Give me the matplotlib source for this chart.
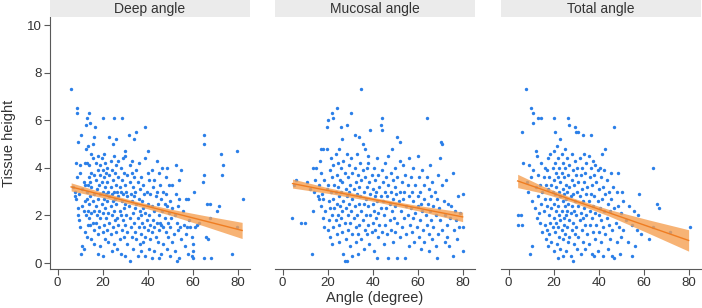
import matplotlib
matplotlib.use("Agg")

import matplotlib.pyplot as plt
import numpy as np

plt.rcParams.update({
    "font.family": ["Liberation Sans", "DejaVu Sans"],
    "font.size": 9,
})

PANELS = ["Deep angle", "Mucosal angle", "Total angle"]
X_TICKS = [0, 20, 40, 60, 80]
Y_TICKS = [0, 2, 4, 6, 8, 10]

# Deep angle points (x, y)
deep_pts = [
    (5.8,7.3),(7,3.2),(7.5,3.0),(7.5,2.8),(8,4.2),(8,2.7),(8.5,6.5),(8.7,6.3),(8.5,3.6),(9,5.1),
    (9,2.3),(9,2.0),(9.5,1.8),(9.5,2.9),(10,3.8),(10,4.1),(10,1.5),(10.5,0.4),(10.5,5.4),(11,0.7),
    (11,2.4),(11,3.1),(11.5,0.6),(11.5,2.2),(11.5,3.4),
    (12,4.2),(12,3.3),(12,2.6),(12,1.3),(12.5,4.8),(12.5,5.8),(12.5,2.0),(13,6.1),(13,4.2),(13,3.0),
    (13,2.7),(13,1.1),(13.5,4.9),(13.5,3.3),(13.5,2.2),(13.5,1.6),(14,6.3),(14,4.1),(14,3.6),(14,2.5),
    (14,1.9),(14.5,5.9),(14.5,3.4),(14.5,2.8),(14.5,1.6),(15,4.6),(15,3.8),(15,3.2),(15,2.1),(15,1.0),
    (15.5,5.0),(15.5,4.4),(15.5,2.6),(15.5,1.7),(16,5.3),(16,3.7),(16,2.9),(16,2.2),(16,1.4),(16,0.8),
    (16.5,5.7),(17,4.2),(17,3.5),(17,2.4),(17,1.7),(17.5,3.1),(17.5,2.0),(18,4.5),(18,3.9),(18,2.7),
    (18,1.2),(18,0.4),(18.5,3.3),(18.5,2.2),(18.5,1.5),(19,4.1),(19,3.7),(19,2.9),(19,1.9),(19,0.7),
    (19.5,4.4),(19.5,3.4),(19.5,2.5),(20,6.1),(20,3.9),(20,3.0),(20,2.1),(20,1.3),(20,0.3),(20.5,4.6),
    (20.5,3.6),(20.5,2.7),(20.5,1.6),(21,4.2),(21,3.2),(21,2.3),(21,1.0),(21.5,3.8),(21.5,2.9),(21.5,1.9),
    (22,4.0),(22,3.4),(22,2.6),(22,1.4),(22.5,3.0),(22.5,2.1),(22.5,0.9),(23,5.3),(23,3.7),(23,2.8),
    (23,1.7),(23.5,4.3),(23.5,3.2),(23.5,2.4),(23.5,1.2),(24,3.9),(24,2.9),(24,2.0),(24,0.5),(24.5,5.0),
    (24.5,3.5),(24.5,2.6),(24.5,1.5),(25,6.1),(25,4.5),(25,3.0),(25,2.2),(25,0.8),(25.5,3.8),(25.5,2.7),
    (25.5,1.8),(26,5.2),(26,4.1),(26,3.3),(26,2.5),(26,1.3),(26.5,3.0),(26.5,1.9),(26.5,0.6),
    (27,4.3),(27,3.6),(27,2.8),(27,1.6),(27.5,3.2),(27.5,2.2),(27.5,1.0),(28,4.0),(28,3.0),(28,2.0),
    (28,0.4),(28.5,6.1),(28.5,3.5),(28.5,2.6),(28.5,1.4),(29,4.4),(29,2.9),(29,1.8),(29.5,3.8),(29.5,2.3),
    (29.5,1.1),(30,4.7),(30,4.5),(30,3.3),(30,2.5),(30,1.6),(30,0.3),(30.5,3.0),(30.5,2.0),(31,3.7),
    (31,2.8),(31,1.3),(31,0.8),(31.5,5.4),(31.5,2.4),
    (32,4.1),(32,3.4),(32,1.9),(32,0.1),(32.5,2.9),(32.5,1.5),(33,4.3),(33,3.8),(33,2.6),(33,1.1),
    (33.5,3.2),(33.5,2.1),(33.5,0.6),(34,5.2),(34,3.6),(34,2.8),(34,1.7),(34.5,3.0),(34.5,2.3),(34.5,1.3),
    (35,5.5),(35,3.9),(35,2.5),(35,1.0),(35.5,3.4),(35.5,1.9),(35.5,0.3),(36,4.2),(36,2.7),(36,1.5),
    (36.5,3.1),(36.5,2.2),(36.5,0.8),
    (37,3.6),(37,2.0),(37,1.2),(37,0.5),(37.5,2.6),(37.5,1.7),(38,3.3),(38,2.3),(38,0.9),(38.5,2.9),
    (38.5,1.5),(39,5.7),(39,4.4),(39,2.1),(39,1.1),(39,0.3),(39.5,3.0),(39.5,1.8),(40,4.7),(40,3.8),
    (40,2.5),(40,1.4),(40.5,3.5),(40.5,2.0),(40.5,0.6),(41,2.9),(41,1.6),(41,1.0),
    (42,3.9),(42,2.4),(42,1.3),(42,0.2),(42.5,3.2),(42.5,1.8),(43,3.5),(43,2.2),(43,1.5),(43,0.5),
    (43.5,2.8),(43.5,1.1),(44,4.3),(44,3.0),(44,1.7),(44.5,2.5),(44.5,0.9),(45,3.8),(45,2.0),(45,1.4),
    (45,0.2),(45.5,3.3),(45.5,1.7),(46,2.7),(46,1.6),(46,0.4),(46.5,4.0),(46.5,2.2),
    (47,3.0),(47,1.5),(47,0.8),(47.5,2.5),(47.5,1.9),(48,3.6),(48,2.9),(48,1.3),(48.5,4.0),(48.5,2.4),
    (48.5,0.6),(49,1.7),(49,1.1),(49.5,3.3),(49.5,2.1),(50,2.6),(50,1.5),(50,0.3),(50.5,1.9),(51,3.3),
    (51,2.3),(51,0.9),(51.5,1.2),(52,2.0),(52,0.5),
    (52.5,4.1),(52.5,2.9),(53,1.7),(53,0.1),(53.5,2.4),(53.5,1.4),(54,3.5),(54,2.7),(54,0.2),(54.5,1.5),
    (55,3.9),(55,1.0),(55.5,2.2),(56,1.6),(56.5,0.7),(57,2.7),(57,1.2),(57.5,1.5),(58,2.7),(58,0.4),
    (58.5,1.8),(59,1.5),(59.5,1.1),
    (65,5.4),(65.2,5.0),(72.5,4.6),(79.5,4.7),(73.5,4.1),(73,3.7),(82.5,2.7),(65,3.7),(64.5,3.4),(66.5,2.5),
    (67.5,2.5),(71.5,2.4),(71,2.2),(67.5,1.9),(60.5,3.0),(62,1.6),(79.5,1.5),(77.5,0.4),(68,0.2),(65,0.2),
    (66,1.1),(67,1.0),(60,0.8),(60,0.5),(59.5,0.3),(60,0.2),(61,1.5),(63,1.7),
]

# Mucosal angle points (x, y)
mucosal_pts = [
    (4,1.9),(5,3.3),(6,3.5),(8,1.7),(10,1.7),(11,3.4),(12,3.1),(13,0.4),(13.5,2.2),(13.5,4.0),
    (14,3.0),(14.5,3.5),(15,4.0),(15.5,2.8),(16,3.3),(16,2.7),(16.5,4.3),(17,4.8),(17,3.8),(17,2.4),
    (17.5,2.9),(18,4.8),(18,2.7),(18,1.9),(18.5,3.5),(18.5,1.5),(19,2.2),(19.5,5.7),(19.5,4.8),(19.5,3.1),
    (20,6.0),(20,3.3),(20,1.4),(20.5,2.6),(20.5,1.8),(21,3.9),(21,2.3),(21,1.1),(21.5,4.4),(21.5,3.0),
    (22,6.3),(22,3.6),(22,2.0),(22,0.8),(22.5,6.1),(22.5,4.1),(22.5,2.7),(22.5,1.5),(23,3.3),(23,2.3),
    (23.5,4.6),(23.5,3.0),(23.5,1.8),(24,6.5),(24,3.7),(24,2.5),(24,1.2),(24.5,4.2),(24.5,3.2),(24.5,2.0),
    (25,4.8),(25,2.8),(25,1.6),(25,0.9),(25.5,3.5),(25.5,2.4),(26,5.7),(26,4.0),(26,3.0),(26,1.9),
    (26.5,5.2),(26.5,3.4),(26.5,2.2),(26.5,1.3),(27,4.3),(27,2.6),(27,0.4),(27.5,3.8),(27.5,1.7),(27.5,0.1),
    (28,3.1),(28,2.3),(28,1.0),(28.5,5.8),(28.5,0.1),(28.5,4.6),(28.5,2.8),(29,3.6),(29,2.0),(29,1.4),
    (29.5,4.1),(29.5,3.0),(29.5,2.5),(30,3.3),(30,1.7),(30,0.7),(30.5,6.3),(30.5,4.4),(30.5,2.2),(31,3.8),
    (31,2.7),(31,1.2),(31,0.3),(31.5,3.1),(31.5,1.9),(32,5.4),(32,4.0),(32,2.4),(32.5,3.4),(32.5,1.5),
    (32.5,0.9),(33,4.6),(33,2.9),(33,2.0),(33.5,3.7),(33.5,1.2),(33.5,0.4),(34,5.3),(34,3.2),(34,2.5),
    (34,1.6),(34.5,4.2),(34.5,2.8),(34.8,7.3),(35,3.5),(35,2.2),(35,1.0),(35.5,5.0),(35.5,3.9),(35.5,1.8),
    (36,3.0),(36,2.5),(36,0.6),(36.5,4.8),(36.5,3.6),(36.5,1.4),(37,2.7),(37,2.0),(37.5,4.0),(37.5,3.2),
    (37.5,1.2),(38,4.5),(38,4.2),(38,2.4),(38,1.6),(38.5,3.4),(38.5,0.8),(39,5.6),(39,2.9),(39,2.0),
    (39.5,3.7),(39.5,1.3),(40,3.1),(40,2.5),(40,1.7),(40.5,4.0),(40.5,2.2),(40.5,0.5),(41,3.5),(41,2.8),
    (41,1.4),(41.5,3.0),(41.5,1.9),(42,4.4),(42,2.6),(42,0.2),(42.5,3.7),(42.5,2.1),(42.5,1.1),(43,3.2),
    (43,1.6),(43.5,5.8),(43.5,2.8),(43.5,2.3),(44,6.1),(44,5.6),(44,3.9),(44,1.3),(44.5,3.4),(44.5,2.6),
    (45,2.0),(45,0.8),(45.5,4.2),(45.5,3.0),(45.5,1.6),(46,3.6),(46,2.3),(46.5,2.8),(46.5,1.2),(47,4.5),
    (47,3.3),(47,0.2),(47.5,2.5),(47.5,1.8),(48,3.8),(48,3.0),(48,1.4),(48.5,4.8),(48.5,2.2),(49,3.5),
    (49,2.7),(49,0.9),(49.5,1.9),(50,4.0),(50,3.2),(50,2.4),(50,1.3),(50.5,2.9),(51,5.3),(51,3.6),
    (51,1.7),(51,0.2),(51.5,2.6),(52,5.1),(52,4.3),(52,3.0),(52,1.1),(52.5,2.2),(53,3.4),(53,1.5),
    (53.5,4.1),(53.5,2.7),(54,3.0),(54,1.9),(54.5,0.2),(54.5,3.7),(55,2.4),(55,1.2),(55.5,3.3),(55.5,2.0),
    (56,4.4),(56,2.8),(56,0.7),(56.5,1.6),(57,3.6),(57,2.3),(57.5,3.0),(57.5,1.3),(58,4.0),(58,2.6),
    (58,1.9),(58.5,0.9),(59,3.3),(59,2.1),(59.5,1.5),(60,4.5),(60,2.8),(60,2.4),(60.5,3.6),(60.5,1.1),
    (61,3.0),(61,1.8),(61.5,2.5),(61.5,0.6),(62,3.9),(62,2.2),(62.5,1.4),(63,3.3),(63,2.7),(63,0.9),
    (63.5,2.0),(64,6.1),(64,3.6),(64,1.6),(64.5,2.5),(65,3.1),(65,1.2),(65,0.5),(65.5,4.1),(65.5,2.2),
    (66,2.8),(66,1.8),(66.5,3.4),(66.5,1.0),(67,2.4),(67,1.5),(67.5,3.0),(68,2.0),(68,0.7),(68.5,0.2),
    (68.5,2.7),(69,3.7),(69,1.2),(69.5,2.3),(70,4.4),(70,1.8),(70.5,5.1),(71,5.0),(71,3.3),(71,1.4),
    (71.5,2.6),(72,0.9),(72,2.0),(72.5,3.5),(73,1.6),(73,1.1),(73.5,2.5),(74,0.7),(74.5,1.9),(75,2.4),
    (75.5,3.8),(75.5,0.3),(76,1.4),(76.5,2.2),(77,1.8),(77.5,1.0),(78,2.8),(78.5,1.5),(79,2.1),(80,2.9),
    (80,0.5),(80,1.5),
]

# Total angle points (x, y)
total_pts = [
    (4,2.0),(4,1.6),(5.5,2.0),(6,1.6),(6,5.5),(6.5,4.2),(7.7,7.3),(8,3.4),(8.5,3.0),(9,4.1),
    (9.5,0.4),(9.9,6.5),(10,3.6),(10.5,0.7),(10.5,2.6),(11,6.3),(11,5.9),(11,3.9),(11.5,2.3),(12,3.2),
    (12,4.7),(12.5,4.5),(12.5,1.9),(13,6.1),(13,3.7),(13,2.8),(13.5,2.1),(14,3.3),(14,1.7),(14.5,6.1),
    (14.5,4.2),(14.5,2.5),(15,3.0),(15,1.3),(15.5,3.6),(15.5,2.2),(16,4.0),(16,2.7),(16,1.6),(16.5,3.3),
    (16.5,1.0),(17,3.9),(17,2.4),(17,1.4),(17.5,4.4),(17.5,3.1),(17.5,0.7),(18,3.6),(18,2.0),(18,1.2),
    (18.5,4.6),(18.5,2.7),(18.5,1.7),(19,3.3),(19,2.3),(19,0.9),(19.5,4.0),(19.5,3.0),(19.5,1.5),(20,6.1),
    (20,4.7),(20,3.5),(20,2.5),(20,1.9),(20,0.5),(20.5,5.5),(20.5,4.2),(20.5,2.9),(20.5,1.3),(21,3.8),
    (21,3.2),(21,2.2),(21,1.7),(21.5,4.9),(21.5,2.7),(21.5,0.8),(22,4.4),(22,3.6),(22,2.4),(22,1.5),
    (22,0.2),(22.5,4.0),(22.5,3.0),(22.5,2.0),(22.5,1.1),(23,5.2),(23,3.4),(23,2.8),(23,1.8),(23,0.6),
    (23.5,4.6),(23.5,3.8),(23.5,2.2),(23.5,1.4),(24,4.2),(24,3.1),(24,2.6),(24,1.0),(24,0.3),(24.5,3.6),
    (24.5,2.9),(24.5,1.9),(24.5,1.6),(25,4.8),(25,4.0),(25,2.4),(25,1.2),(25.5,3.3),(25.5,2.7),(25.5,2.0),
    (25.5,0.5),(26,4.4),(26,3.0),(26,2.2),(26,1.5),(26.5,6.1),(26.5,3.7),(26.5,2.5),(26.5,0.9),(27,5.8),
    (27,4.1),(27,3.2),(27,1.8),(27,1.1),(27.5,2.8),(27.5,2.1),(27.5,0.3),(28,4.6),(28,3.5),(28,2.4),
    (28,1.4),(28.5,3.9),(28.5,2.9),(28.5,1.7),(28.5,0.1),(29,3.3),(29,2.2),(29,0.8),(29.5,5.7),(29.5,4.3),
    (29.5,2.6),(29.5,1.2),(30,5.5),(30,3.7),(30,2.0),(30,1.5),(30.5,4.0),(30.5,3.0),(30.5,0.6),(31,5.5),
    (31,3.4),(31,2.4),(31,1.1),(31.5,4.4),(31.5,2.8),(31.5,1.8),(32,3.7),(32,2.1),(32,0.4),(32.5,4.0),
    (32.5,3.1),(32.5,1.4),(33,5.4),(33,2.6),(33,1.9),(33,0.9),(33.5,4.6),(33.5,3.4),(33.5,2.3),(34,3.8),
    (34,1.6),(34,0.6),(34.5,4.2),(34.5,2.9),(34.5,2.0),(35,3.2),(35,1.2),(35.5,4.5),(35.5,2.6),(35.5,0.8),
    (36,3.6),(36,2.2),(36,1.6),(36.5,5.4),(36.5,4.0),(36.5,2.9),(37,3.3),(37,1.9),(37,0.4),(37.5,4.3),
    (37.5,2.4),(37.5,1.3),(38,3.7),(38,2.8),(38,0.3),(38.5,4.1),(38.5,2.1),(38.5,1.0),(39,3.4),(39,1.6),
    (39.5,3.9),(39.5,2.6),(39.5,0.5),(40,3.1),(40,2.0),(40,1.3),(40.5,4.0),(40.5,2.3),(41,3.6),(41,1.8),
    (41,0.9),(41.5,4.6),(41.5,2.7),(42,3.2),(42,1.5),(42,0.3),(42.5,3.9),(42.5,2.2),(43,4.8),(43,2.9),
    (43,1.2),(43.5,3.5),(43.5,1.9),(44,2.5),(44,0.6),(44.5,3.0),(44.5,1.6),(45,2.2),(45,1.0),(45.5,3.8),
    (45.5,2.7),(46,1.4),(46,0.3),(46.5,3.2),(47,5.7),(47,2.3),(47,0.2),(47.5,1.7),(48,3.0),(48,0.9),
    (48.5,3.8),(48.5,2.4),(49,1.5),(49.5,0.4),(50,2.1),(50,1.1),(50.5,3.0),(51,2.6),(51,1.4),(52,1.8),
    (53,0.9),(53.5,2.4),(55,1.6),(55,0.3),(55.5,2.2),(56,0.7),(57,1.4),(57.5,2.0),(58,2.9),(59,1.2),
    (62.5,1.0),(64,1.5),(64,4.0),(66,2.5),(67,2.3),(71.5,1.3),(80.5,1.5),
]

# fitted line + 95% band
deep_fit_x = [6, 20, 35, 50, 65, 82]
deep_fit_y = [3.20, 2.86, 2.50, 2.14, 1.78, 1.37]
deep_fit_hw = [0.17, 0.11, 0.09, 0.13, 0.22, 0.34]

mucosal_fit_x = [4.4, 20, 40, 60, 80]
mucosal_fit_y = [3.34, 3.05, 2.68, 2.31, 1.94]
mucosal_fit_hw = [0.19, 0.12, 0.08, 0.11, 0.20]

total_fit_x = [4, 15, 28, 45, 62, 80]
total_fit_y = [3.45, 3.09, 2.66, 2.10, 1.54, 0.95]
total_fit_hw = [0.28, 0.15, 0.09, 0.14, 0.28, 0.45]

POINT_COLOR = "#2b7fe8"
LINE_COLOR = "#ef7d22"
BAND_COLOR = "#f5a053"
AXIS_COLOR = "#595959"
TEXT_COLOR = "#333333"

W, H = 702, 308
fig = plt.figure(figsize=(W / 100, H / 100), dpi=100)

lefts = [50, 275, 501]
ax_w = 200
top_px, bot_px = 17, 269

points = [deep_pts, mucosal_pts, total_pts]
fits = [
    (deep_fit_x, deep_fit_y, deep_fit_hw),
    (mucosal_fit_x, mucosal_fit_y, mucosal_fit_hw),
    (total_fit_x, total_fit_y, total_fit_hw),
]

for i, (title, pts, fit) in enumerate(zip(PANELS, points, fits)):
    l = lefts[i] / W
    b = (H - bot_px) / H
    h = (bot_px - top_px) / H
    ax = fig.add_axes([l, b, ax_w / W, h])

    # facet strip
    sax = fig.add_axes([l, (H - top_px) / H, ax_w / W, top_px / H])
    sax.set_facecolor("#ebebeb")
    sax.set_xticks([])
    sax.set_yticks([])
    for s in sax.spines.values():
        s.set_visible(False)
    sax.text(0.5, 0.5, title, ha="center", va="center", fontsize=10,
             color=TEXT_COLOR, transform=sax.transAxes)

    pts = np.array(pts)
    ax.scatter(pts[:, 0], pts[:, 1], s=6, color=POINT_COLOR, linewidths=0, zorder=2)

    fx, fy, fhw = (np.array(a) for a in fit)
    ax.fill_between(fx, fy - fhw, fy + fhw, color=BAND_COLOR, alpha=0.8,
                    linewidth=0, zorder=3)
    ax.plot(fx, fy, color=LINE_COLOR, lw=1.0, zorder=4)

    ax.set_xlim(-3.4, 85.5)
    ax.set_ylim(-0.25, 10.34)
    ax.set_xticks(X_TICKS)
    ax.set_yticks(Y_TICKS)

    for side in ["top", "right"]:
        ax.spines[side].set_visible(False)
    ax.spines["bottom"].set_color(AXIS_COLOR)
    ax.spines["left"].set_color(AXIS_COLOR)
    ax.tick_params(colors=AXIS_COLOR, labelcolor=TEXT_COLOR, labelsize=9.5,
                   length=4, width=0.8, pad=2)
    if i > 0:
        ax.spines["left"].set_visible(False)
        ax.tick_params(axis="y", left=False, labelleft=False)
    else:
        ax.set_ylabel("Tissue height", fontsize=10.5, color=TEXT_COLOR, labelpad=8)
    if i == 1:
        ax.set_xlabel("Angle (degree)", fontsize=10.5, color=TEXT_COLOR, labelpad=1)

fig.savefig("out.png", dpi=100)
